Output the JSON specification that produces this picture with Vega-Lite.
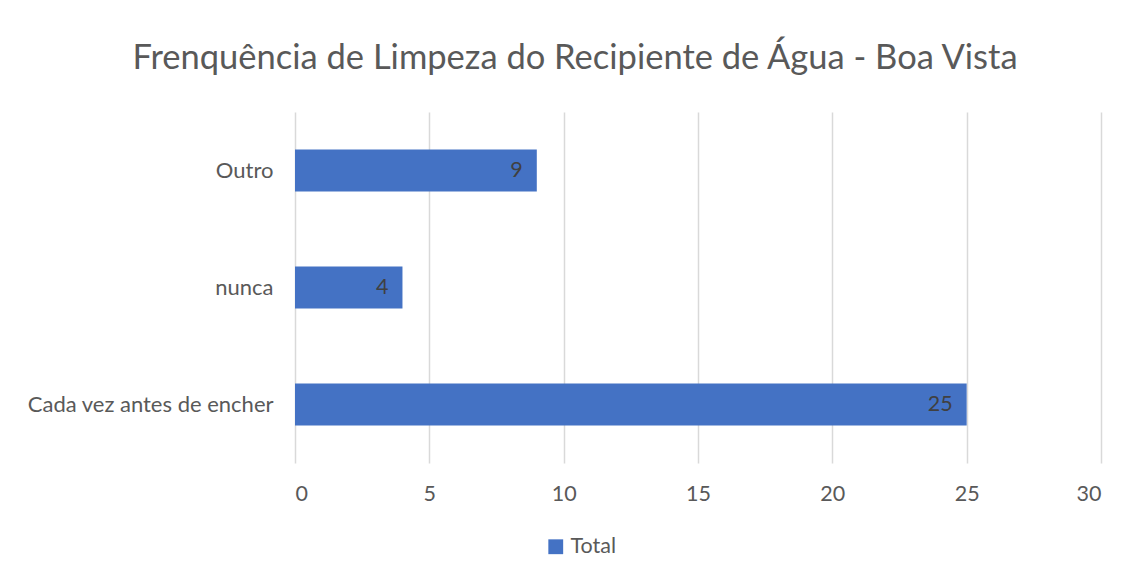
{
  "$schema": "https://vega.github.io/schema/vega-lite/v6.json",
  "width": 806,
  "height": 351,
  "autosize": "none",
  "padding": {"left": 295, "top": 112, "right": 29, "bottom": 114},
  "background": "white",
  "title": {
    "text": "Frenquência de Limpeza do Recipiente de Água - Boa Vista",
    "font": "Lato",
    "fontSize": 34.5,
    "fontWeight": "normal",
    "color": "#595959",
    "anchor": "middle",
    "dx": -123,
    "offset": 36
  },
  "data": {
    "values": [
      {"categoria": "Outro", "total": 9, "serie": "Total"},
      {"categoria": "nunca", "total": 4, "serie": "Total"},
      {"categoria": "Cada vez antes de encher", "total": 25, "serie": "Total"}
    ]
  },
  "encoding": {
    "y": {
      "field": "categoria",
      "type": "nominal",
      "sort": ["Outro", "nunca", "Cada vez antes de encher"],
      "scale": {"paddingInner": 0.64, "paddingOuter": 0.32},
      "axis": {
        "title": null,
        "domain": false,
        "ticks": false,
        "labelFont": "Lato",
        "labelFontSize": 22,
        "labelColor": "#595959",
        "labelPadding": 22,
        "labelLimit": 400
      }
    },
    "x": {
      "field": "total",
      "type": "quantitative",
      "scale": {"domain": [0, 30]},
      "axis": {
        "title": null,
        "values": [0, 5, 10, 15, 20, 25, 30],
        "domain": false,
        "ticks": false,
        "grid": true,
        "gridColor": "#d9d9d9",
        "gridWidth": 1.5,
        "labelFont": "Lato",
        "labelFontSize": 21.5,
        "labelColor": "#595959",
        "labelPadding": 20
      }
    }
  },
  "layer": [
    {
      "mark": {"type": "bar", "color": "#4472C4"},
      "encoding": {
        "color": {
          "field": "serie",
          "type": "nominal",
          "scale": {"range": ["#4472C4"]},
          "legend": {
            "title": null,
            "orient": "none",
            "legendX": 250,
            "legendY": 424,
            "symbolType": "square",
            "symbolSize": 220,
            "symbolStrokeWidth": 0,
            "labelFont": "Lato",
            "labelFontSize": 21.5,
            "labelColor": "#595959",
            "labelOffset": 4
          }
        }
      }
    },
    {
      "mark": {
        "type": "text",
        "align": "right",
        "baseline": "middle",
        "dx": -14,
        "font": "Lato",
        "fontSize": 21.5,
        "color": "#404040"
      },
      "encoding": {"text": {"field": "total", "type": "quantitative"}}
    }
  ],
  "config": {"view": {"stroke": null}}
}
